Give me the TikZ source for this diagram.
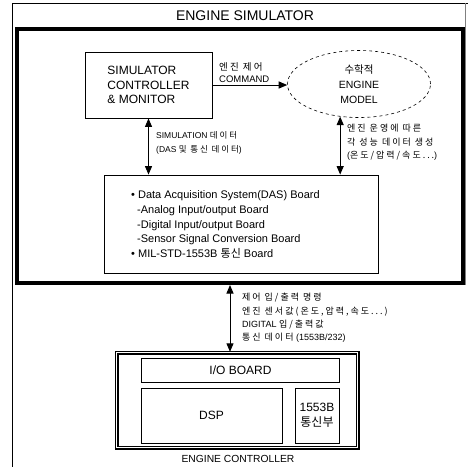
\documentclass[tikz,border=0pt]{standalone}
\usepackage{fontspec}
\setmainfont{Liberation Sans}
\newfontfamily\kr[LetterSpace=22]{Noto Sans CJK KR}
\newfontfamily\krbox{Noto Sans CJK KR}
\usetikzlibrary{arrows.meta,shapes.geometric}
\tikzset{
  box/.style={draw, line width=0.8pt, rectangle, inner sep=2pt},
  simbox/.style={draw, line width=4pt, rectangle},
  ecbox/.style={draw, line width=1.4pt, double, double distance=1.2pt, rectangle},
  arr/.style={line width=1pt, -{Triangle[length=8.5pt,width=7pt]}},
  arrboth/.style={line width=1pt, {Triangle[length=8.5pt,width=7pt]}-{Triangle[length=8.5pt,width=7pt]}},
  lbl/.style={inner sep=0pt, align=left, font=\fontsize{9}{13.5}\selectfont},
  big/.style={font=\fontsize{12}{14.5}\selectfont}
}
\begin{document}
\begin{tikzpicture}[x=1pt,y=-1pt]
\useasboundingbox (0,0) rectangle (468,467);
% outer frame
\draw[line width=0.8pt] (468,3) -- (12,3) -- (12,467);
\draw[line width=0.6pt, gray] (465,3) -- (465,285);
\node[font=\fontsize{14}{16}\selectfont] (title) at (245,16) {ENGINE SIMULATOR};
\node[simbox, minimum width=446pt, minimum height=254pt] (sim) at (240,156) {};
% controller
\node[box, big, align=left, minimum width=127pt, minimum height=66pt] (ctrl) at (148.5,85) {SIMULATOR\\CONTROLLER\\\& MONITOR};
\node[ellipse, draw, dashed, line width=0.6pt, align=center, font=\fontsize{10.5}{15}\selectfont, minimum width=143pt, minimum height=67pt] (model) at (359,84) {{\krbox 수학적}\\ENGINE\\MODEL};
\draw[arr] (ctrl.east) -- (ctrl.east -| model.west);
\node[lbl, anchor=west, font=\fontsize{9.5}{11.5}\selectfont] (cmdlbl) at (219,72.5) {{\kr 엔진 제어}\\COMMAND};
% DAS
\node[box, minimum width=274pt, minimum height=98pt] (das) at (241,224) {};
\node[inner sep=0pt, anchor=west, align=left, font=\fontsize{11}{14.6}\selectfont] (dastext) at (131,224.5) {\textbullet\ Data Acquisition System(DAS) Board\\
\hspace*{6pt}-Analog Input/output Board\\
\hspace*{6pt}-Digital Input/output Board\\
\hspace*{6pt}-Sensor Signal Conversion Board\\
\textbullet\ MIL-STD-1553B {\krbox 통신} Board};
\draw[arrboth] (ctrl.south) -- (ctrl.south |- das.north);
\draw[arrboth] (model.240) -- (model.240 |- das.north);
\node[lbl, anchor=west, font=\fontsize{8.5}{14}\selectfont] (simlbl) at (156,143) {SIMULATION {\kr 데이터}\\(DAS {\kr 및 통신 데이터})};
\node[lbl, anchor=west] (modlbl) at (347,142.5) {{\kr 엔진 운영에 따른}\\{\kr 각 성능 데이터 생성}\\({\kr 온도/압력/속도...})};
% engine controller
\node[ecbox, minimum width=241pt, minimum height=95pt] (ec) at (237,400) {};
\node[box, big, minimum width=198pt, minimum height=24pt] (io) at (240.5,370) {I/O BOARD};
\node[box, big, minimum width=141pt, minimum height=55pt] (dsp) at (211.5,415.5) {DSP};
\node[box, big, align=center, minimum width=44pt, minimum height=55pt, inner sep=1pt] (comm) at (317,415.5) {1553B\\{\krbox 통신부}};
\node[font=\fontsize{10.3}{12}\selectfont] (eclbl) at (238,459) {ENGINE CONTROLLER};
\coordinate (busx) at (230,0);
\draw[arrboth] (sim.south -| busx) -- (ec.north -| busx);
\node[lbl, anchor=west, font=\fontsize{9}{13.3}\selectfont] (buslbl) at (242,318) {{\kr 제어 입/출력 명령}\\{\kr 엔진 센서값(온도,압력,속도...)}\\DIGITAL {\kr 입/출력값}\\{\kr 통신 데이터} (1553B/232)};
\end{tikzpicture}
\end{document}
